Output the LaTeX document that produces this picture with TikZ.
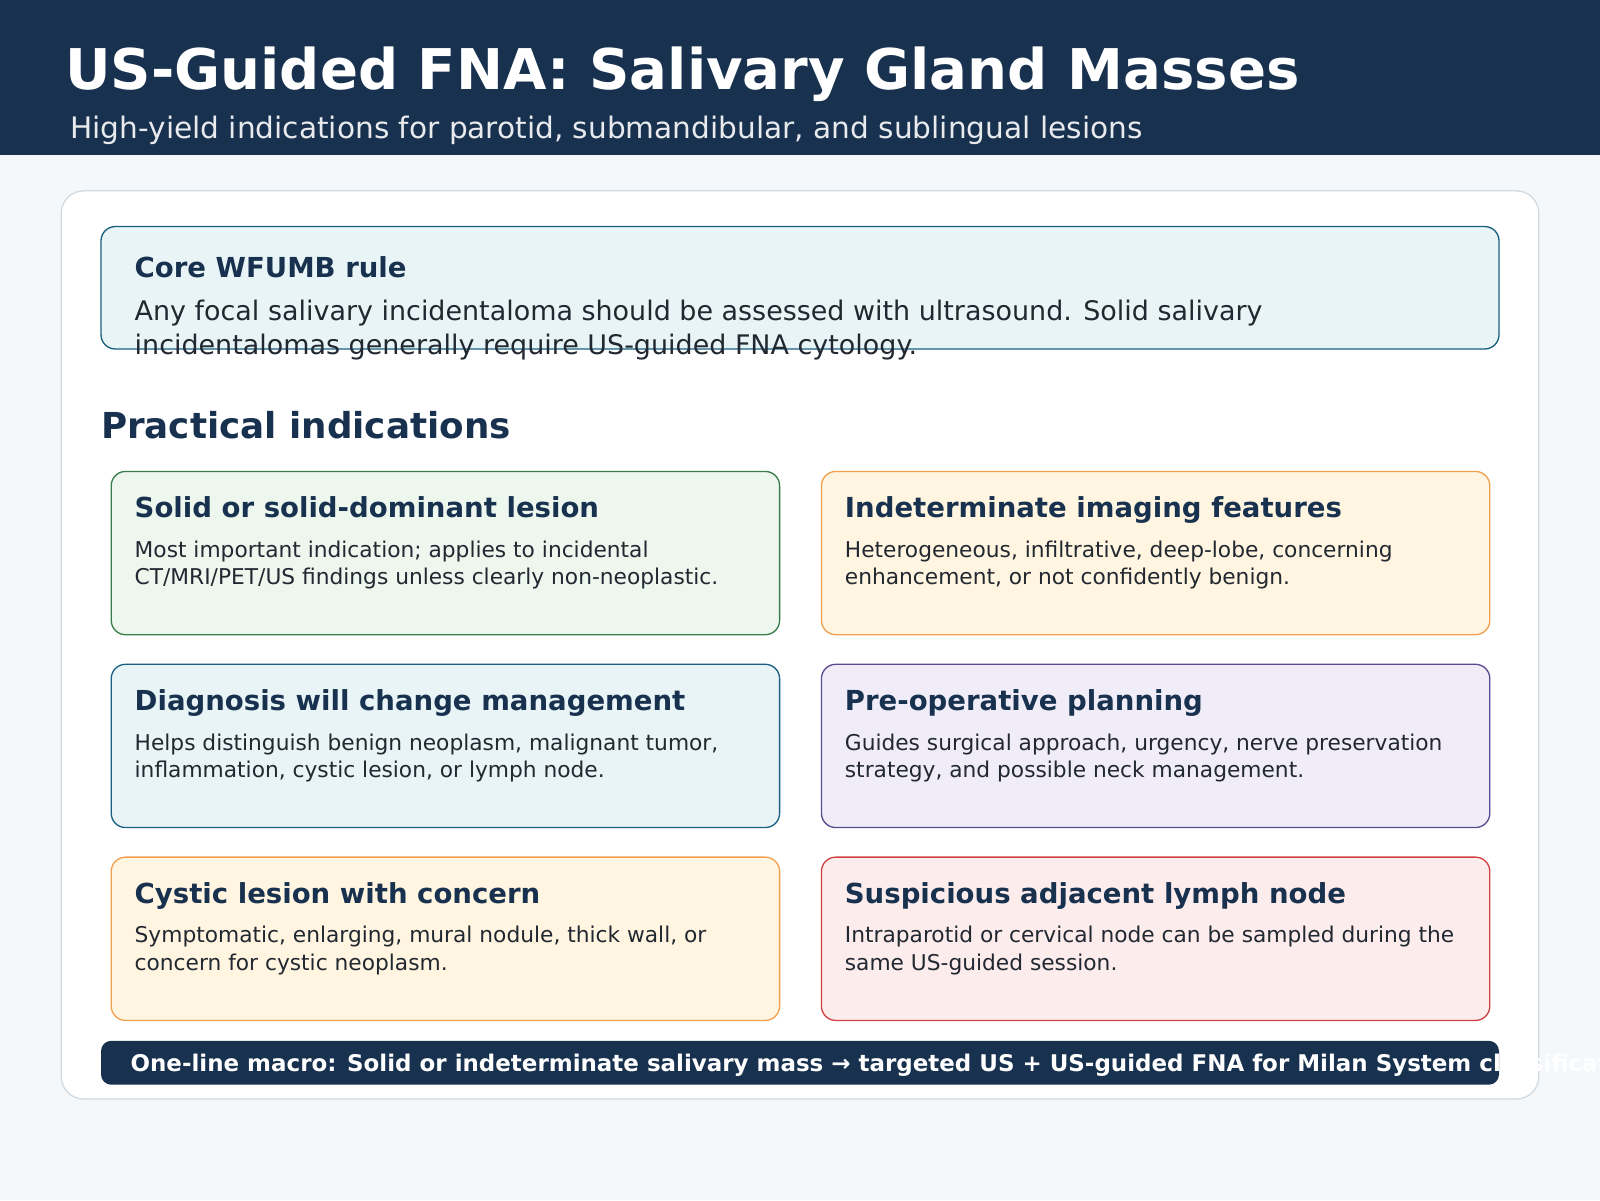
\documentclass[tikz,border=0pt]{standalone}
\usepackage{fontspec}
\setmainfont{DejaVu Sans}
\definecolor{navy}{HTML}{17314F}
\definecolor{bg}{HTML}{F4F8FB}
\definecolor{cardline}{HTML}{D0DBE3}
\definecolor{gfill}{HTML}{EDF7EE}\definecolor{gline}{HTML}{3A7D4A}
\definecolor{ofill}{HTML}{FFF5E0}\definecolor{oline}{HTML}{F0A050}
\definecolor{bfill}{HTML}{E8F4F6}\definecolor{bline}{HTML}{1A6080}
\definecolor{pfill}{HTML}{F0EDF8}\definecolor{pline}{HTML}{5A4A90}
\definecolor{rfill}{HTML}{FCECEC}\definecolor{rline}{HTML}{D04040}
\definecolor{body}{HTML}{222831}
\begin{document}
\begin{tikzpicture}[x=1pt,y=-1pt,
  card/.style={rounded corners=14pt,line width=1.3pt},
  lbl/.style={anchor=base west,inner sep=0pt,outer sep=0pt},
  ctitle/.style={lbl,text=navy,font=\fontsize{27}{32}\selectfont\bfseries},
  cbody/.style={lbl,text=body,font=\fontsize{21.3}{26}\selectfont}]
\useasboundingbox (0,0) rectangle (1568,1176);
\fill[bg] (0,0) rectangle (1568,1176);
\fill[navy] (0,0) rectangle (1568,152);
\node[lbl,text=white,font=\fontsize{55}{62}\selectfont\bfseries] (title) at (64,88) {US-Guided FNA: Salivary Gland Masses};
\node[lbl,text=white!90!navy,font=\fontsize{29}{34}\selectfont] (sub) at (69,136) {High-yield indications for parotid, submandibular, and sublingual lesions};
\draw[card,fill=white,draw=cardline,rounded corners=22pt] (60,187) rectangle (1508,1077);
\draw[card,fill=bfill,draw=bline] (99,222) rectangle (1469,342);
\node[lbl,text=navy,font=\fontsize{27}{32}\selectfont\bfseries] (coret) at (132,272) {Core WFUMB rule};
\node[lbl,text=body,font=\fontsize{26.4}{32}\selectfont] (coreb1) at (132,314) {Any focal salivary incidentaloma should be assessed with ultrasound. Solid salivary};
\node[lbl,text=body,font=\fontsize{26.4}{32}\selectfont] (coreb2) at (132,347) {incidentalomas generally require US-guided FNA cytology.};
\node[lbl,text=navy,font=\fontsize{35}{42}\selectfont\bfseries] (prac) at (99,430) {Practical indications};
\foreach \x/\y/\f/\l/\t/\ba/\bb/\n in {
 109/462/gfill/gline/{Solid or solid-dominant lesion}/{Most important indication; applies to incidental}/{CT/MRI/PET/US findings unless clearly non-neoplastic.}/c1,
 805/462/ofill/oline/{Indeterminate imaging features}/{Heterogeneous, infiltrative, deep-lobe, concerning}/{enhancement, or not confidently benign.}/c2,
 109/651/bfill/bline/{Diagnosis will change management}/{Helps distinguish benign neoplasm, malignant tumor,}/{inflammation, cystic lesion, or lymph node.}/c3,
 805/651/pfill/pline/{Pre-operative planning}/{Guides surgical approach, urgency, nerve preservation}/{strategy, and possible neck management.}/c4,
 109/840/ofill/oline/{Cystic lesion with concern}/{Symptomatic, enlarging, mural nodule, thick wall, or}/{concern for cystic neoplasm.}/c5,
 805/840/rfill/rline/{Suspicious adjacent lymph node}/{Intraparotid or cervical node can be sampled during the}/{same US-guided session.}/c6}{
  \draw[card,fill=\f,draw=\l] (\x,\y) rectangle ++(655,160);
  \node[ctitle] (\n t) at (\x+23,\y+45) {\t};
  \node[cbody] (\n a) at (\x+23,\y+84) {\ba};
  \node[cbody] (\n b) at (\x+23,\y+111) {\bb};
}
\fill[navy,rounded corners=10pt] (99,1020) rectangle (1469,1063);
\node[lbl,text=white,font=\fontsize{22.5}{26}\selectfont\bfseries] (macro) at (128,1050) {One-line macro: Solid or indeterminate salivary mass → targeted US + US-guided FNA for Milan System classification};
\end{tikzpicture}
\end{document}
